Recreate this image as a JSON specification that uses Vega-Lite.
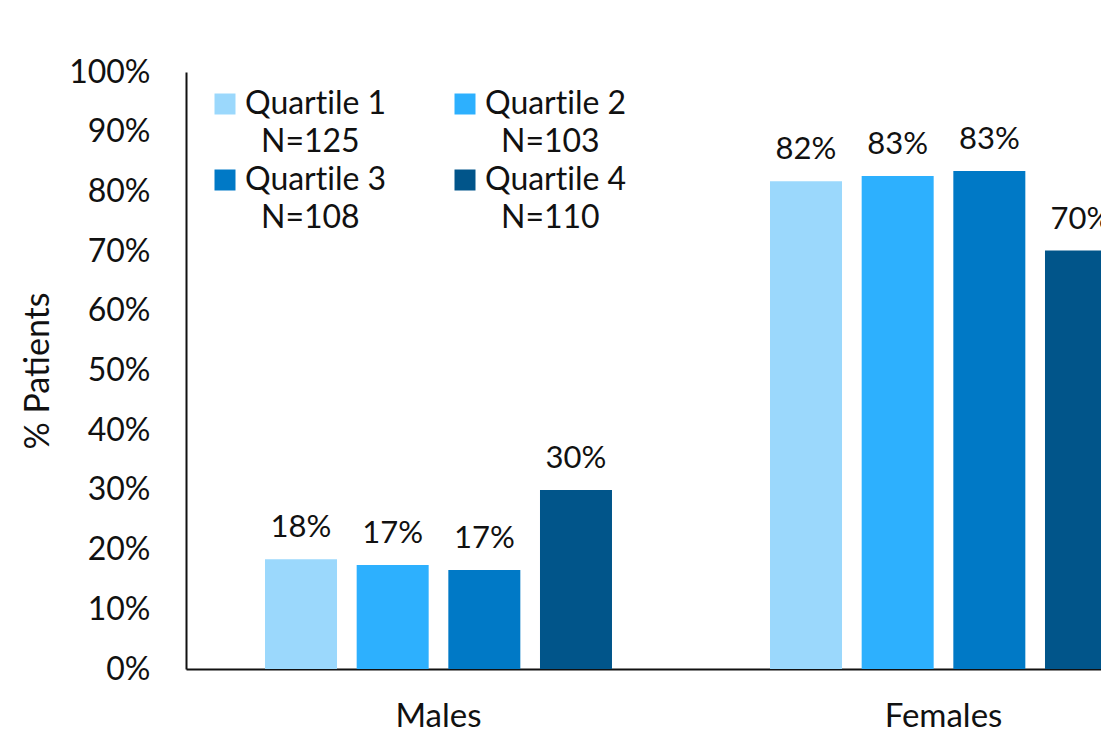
{
  "$schema": "https://vega.github.io/schema/vega-lite/v6.json",
  "width": 915,
  "height": 597,
  "autosize": {"type": "none"},
  "padding": {"left": 186, "top": 72, "right": 0, "bottom": 69},
  "background": "white",
  "config": {
    "view": {"stroke": null},
    "font": "Lato",
    "axis": {"labelColor": "#111111", "titleColor": "#111111", "labelFont": "Lato", "titleFont": "Lato", "grid": false, "ticks": false, "tickSize": 0, "domainColor": "#111111", "domainWidth": 2}
  },
  "data": {
    "values": [
      {"sex": "Males", "quartile": "Quartile 1", "pct": 0.184},
      {"sex": "Males", "quartile": "Quartile 2", "pct": 0.174},
      {"sex": "Males", "quartile": "Quartile 3", "pct": 0.166},
      {"sex": "Males", "quartile": "Quartile 4", "pct": 0.300},
      {"sex": "Females", "quartile": "Quartile 1", "pct": 0.817},
      {"sex": "Females", "quartile": "Quartile 2", "pct": 0.826},
      {"sex": "Females", "quartile": "Quartile 3", "pct": 0.834},
      {"sex": "Females", "quartile": "Quartile 4", "pct": 0.701}
    ]
  },
  "encoding": {
    "x": {
      "field": "sex",
      "type": "nominal",
      "sort": ["Males", "Females"],
      "scale": {"range": [0, 1010], "paddingInner": 0, "paddingOuter": 0},
      "axis": {"title": null, "labelAngle": 0, "labelFontSize": 33, "labelPadding": 31}
    },
    "xOffset": {
      "field": "quartile",
      "type": "nominal",
      "sort": ["Quartile 1", "Quartile 2", "Quartile 3", "Quartile 4"],
      "scale": {"paddingInner": 0.2145, "paddingOuter": 0.862}
    },
    "y": {
      "field": "pct",
      "type": "quantitative",
      "scale": {"domain": [0, 1]},
      "axis": {
        "title": "% Pa\u200ctients",
        "titleFontSize": 34,
        "titleFontWeight": "normal",
        "titlePadding": 13,
        "values": [0, 0.1, 0.2, 0.3, 0.4, 0.5, 0.6, 0.7, 0.8, 0.9, 1],
        "format": ".0%",
        "labelFontSize": 32,
        "labelPadding": 36
      }
    }
  },
  "layer": [
    {
      "mark": {"type": "bar", "clip": true},
      "encoding": {
        "color": {
          "field": "quartile",
          "type": "nominal",
          "sort": ["Quartile 1", "Quartile 2", "Quartile 3", "Quartile 4"],
          "scale": {
            "domain": ["Quartile 1", "Quartile 2", "Quartile 3", "Quartile 4"],
            "range": ["#9BD8FC", "#2DB0FE", "#0079C6", "#01558A"]
          },
          "legend": {
            "title": null,
            "orient": "none",
            "direction": "horizontal",
            "legendX": 23,
            "legendY": 16,
            "columns": 2,
            "symbolType": "square",
            "symbolSize": 441,
            "symbolStrokeWidth": 0,
            "symbolOpacity": 1,
            "labelFont": "Lato",
            "labelFontSize": 32,
            "labelColor": "#111111",
            "labelLimit": 0,
            "labelOffset": 4,
            "columnPadding": 62,
            "rowPadding": 6,
            "labelExpr": "[replace(datum.label, 'ti', 't\u200ci'), '\u200c\u2002N=' + (datum.label == 'Quartile 1' ? '125' : datum.label == 'Quartile 2' ? '103' : datum.label == 'Quartile 3' ? '108' : '110')]",
            "encode": {"labels": {"update": {"lineHeight": {"value": 38}}}}
          }
        }
      }
    },
    {
      "mark": {"type": "text", "clip": true, "baseline": "alphabetic", "dy": -22, "fontSize": 31, "color": "#111111"},
      "encoding": {"text": {"field": "pct", "type": "quantitative", "format": ".0%"}}
    }
  ]
}
